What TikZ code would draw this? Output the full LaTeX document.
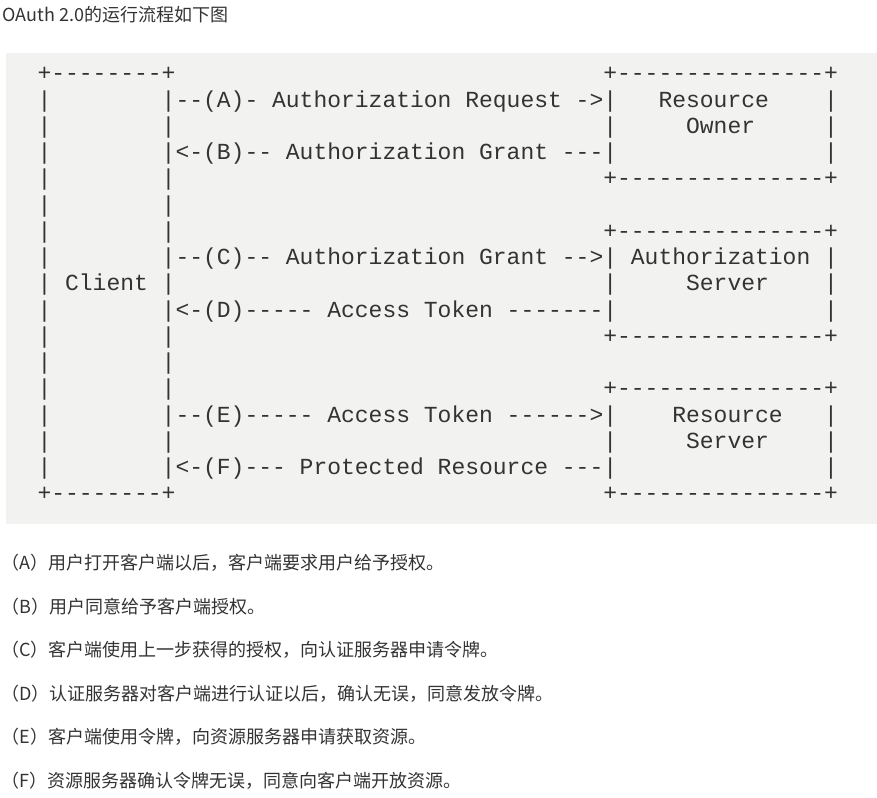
\documentclass[tikz,border=0pt]{standalone}
\usepackage{fontspec}
\setmonofont{Liberation Mono}
\newfontfamily\cjk{Noto Sans CJK SC}
\usepackage{tikz}
\definecolor{ink}{HTML}{333333}
\definecolor{panel}{HTML}{F2F2F0}
\newcommand{\colgap}[1]{\hspace*{\dimexpr #1em*6/10\relax}}

\begin{document}
\begin{tikzpicture}[x=0.5pt,y=-0.5pt,
  ascii/.style={font=\ttfamily\fontsize{11.5}{13}\selectfont,text=ink,inner sep=0pt,anchor=base west},
  note/.style={font=\cjk\fontsize{9}{11}\selectfont,text=ink,inner sep=0pt,anchor=base west}]
\useasboundingbox (0,0) rectangle (877,797);
\fill[panel] (6,53) rectangle (877,524);
\node[note] (title) at (2,22) {OAuth 2.0的运行流程如下图};
% flow chart, one node per text row
\node[ascii] (r0) at (37.1,80.75) {+--------+\colgap{31}+---------------+};
\node[ascii] (r1) at (37.1,107) {|\colgap{8}|--(A)- Authorization Request ->|\colgap{3}Resource\colgap{4}|};
\node[ascii] (r2) at (37.1,133.25) {|\colgap{8}|\colgap{31}|\colgap{5}Owner\colgap{5}|};
\node[ascii] (r3) at (37.1,159.5) {|\colgap{8}|<-(B)-- Authorization Grant ---|\colgap{15}|};
\node[ascii] (r4) at (37.1,185.75) {|\colgap{8}|\colgap{31}+---------------+};
\node[ascii] (r5) at (37.1,212) {|\colgap{8}|};
\node[ascii] (r6) at (37.1,238.25) {|\colgap{8}|\colgap{31}+---------------+};
\node[ascii] (r7) at (37.1,264.5) {|\colgap{8}|--(C)-- Authorization Grant -->| Authorization |};
\node[ascii] (r8) at (37.1,290.75) {| Client |\colgap{31}|\colgap{5}Server\colgap{4}|};
\node[ascii] (r9) at (37.1,317) {|\colgap{8}|<-(D)----- Access Token -------|\colgap{15}|};
\node[ascii] (r10) at (37.1,343.25) {|\colgap{8}|\colgap{31}+---------------+};
\node[ascii] (r11) at (37.1,369.5) {|\colgap{8}|};
\node[ascii] (r12) at (37.1,395.75) {|\colgap{8}|\colgap{31}+---------------+};
\node[ascii] (r13) at (37.1,422) {|\colgap{8}|--(E)----- Access Token ------>|\colgap{4}Resource\colgap{3}|};
\node[ascii] (r14) at (37.1,448.25) {|\colgap{8}|\colgap{31}|\colgap{5}Server\colgap{4}|};
\node[ascii] (r15) at (37.1,474.5) {|\colgap{8}|<-(F)--- Protected Resource ---|\colgap{15}|};
\node[ascii] (r16) at (37.1,500.75) {+--------+\colgap{31}+---------------+};
% steps
\node[note] (stepA) at (1,569.5) {（A）用户打开客户端以后，客户端要求用户给予授权。};
\node[note] (stepB) at (1,613.1) {（B）用户同意给予客户端授权。};
\node[note] (stepC) at (1,656.7) {（C）客户端使用上一步获得的授权，向认证服务器申请令牌。};
\node[note] (stepD) at (1,700.3) {（D）认证服务器对客户端进行认证以后，确认无误，同意发放令牌。};
\node[note] (stepE) at (1,743.9) {（E）客户端使用令牌，向资源服务器申请获取资源。};
\node[note] (stepF) at (1,787.5) {（F）资源服务器确认令牌无误，同意向客户端开放资源。};
\end{tikzpicture}
\end{document}
